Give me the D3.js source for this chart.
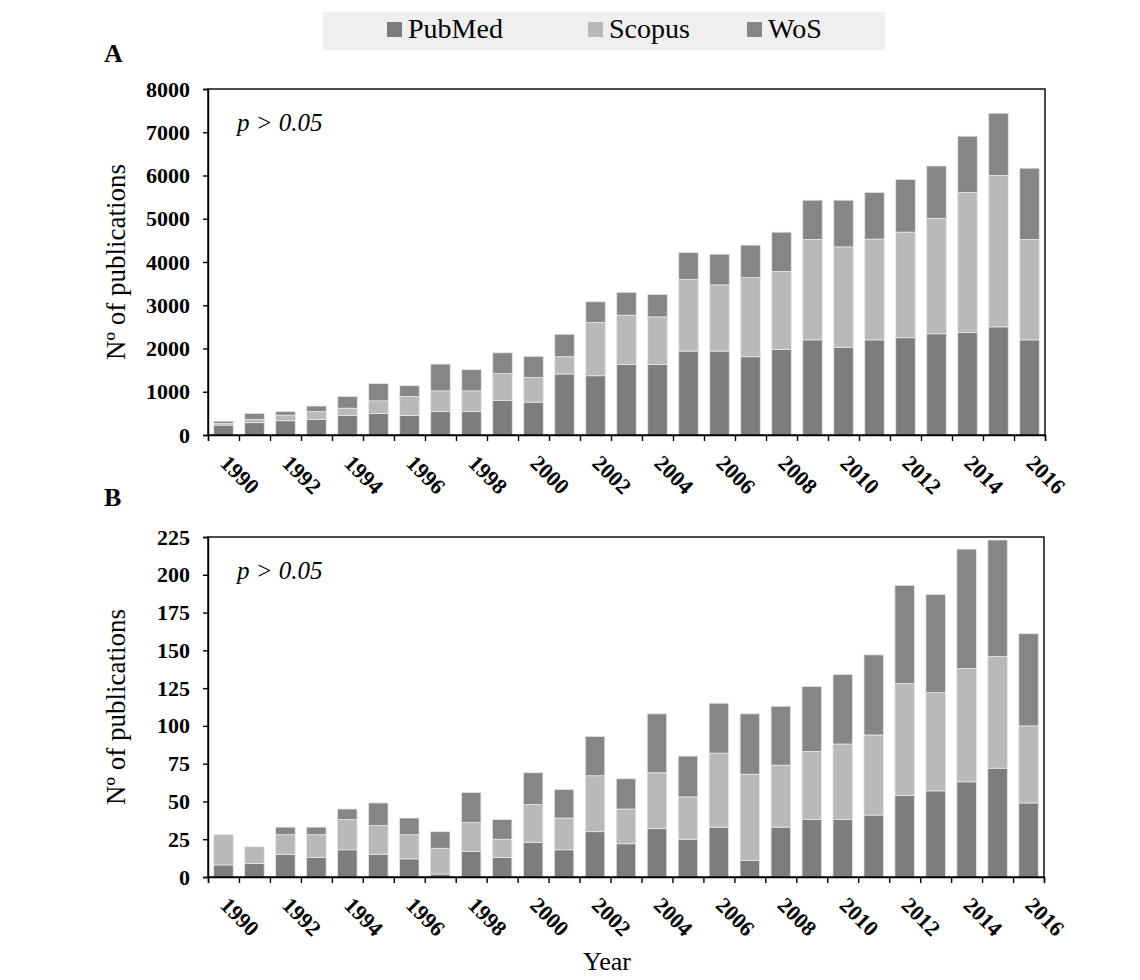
<!DOCTYPE html>
<html><head><meta charset="utf-8">
<script src="https://cdn.jsdelivr.net/npm/d3@7"></script>
<style>body{margin:0;background:#fff}svg{display:block}</style>
</head><body><svg id="c" width="1140" height="980"></svg>
<script>
const years = ["1990","1991","1992","1993","1994","1995","1996","1997","1998","1999","2000","2001","2002","2003","2004","2005","2006","2007","2008","2009","2010","2011","2012","2013","2014","2015","2016"];
const seriesNames = ["PubMed","Scopus","WoS"];
const pubmedA = [230,285,330,360,450,500,450,540,540,800,760,1410,1370,1630,1630,1940,1940,1810,1980,2200,2030,2200,2250,2340,2370,2500,2200];
const scopusA = [40,75,130,180,170,290,440,480,480,620,570,400,1230,1140,1100,1660,1530,1830,1800,2320,2320,2330,2440,2670,3240,3500,2320];
const wosA    = [50,140,80,130,270,400,250,620,490,480,490,520,480,530,520,620,710,750,910,910,1080,1080,1220,1210,1300,1440,1650];
const pubmedB = [8,9,15,13,18,15,12,2,17,13,23,18,30,22,32,25,33,11,33,38,38,41,54,57,63,72,49];
const scopusB = [20,11,13,15,20,19,16,17,19,12,25,21,37,23,37,28,49,57,41,45,50,53,74,65,75,74,51];
const wosB    = [0,0,5,5,7,15,11,11,20,13,21,19,26,20,39,27,33,40,39,43,46,53,65,65,79,77,61];
const yTicksA = [0,1000,2000,3000,4000,5000,6000,7000,8000];
const yTicksB = [0,25,50,75,100,125,150,175,200,225];
const xLabelYears = ["1990","1992","1994","1996","1998","2000","2002","2004","2006","2008","2010","2012","2014","2016"];
const colors = ["#7d7d7d","#b9b9b9","#868686"];

const svg = d3.select("#c");
const serif = "'Liberation Serif','Times New Roman',serif";

// legend
const lg = svg.append("g");
lg.append("rect").attr("x",323).attr("y",12).attr("width",562).attr("height",38).attr("fill","#efefef");
const legX = [387, 588, 747];
seriesNames.forEach((n,i)=>{
  lg.append("rect").attr("x",legX[i]).attr("y",22).attr("width",15).attr("height",15).attr("fill",colors[i]);
  lg.append("text").attr("x",legX[i]+21).attr("y",38).attr("font-family",serif).attr("font-size",28).attr("fill","#000").text(n);
});

function panel(cfg){
  const {x0,x1,y0,y1,vals,max,ticks,letter,letterY} = cfg;
  const g = svg.append("g");
  const x = d3.scaleBand().domain(years).range([x0,x1]).paddingInner(0.37).paddingOuter(0.185);
  const y = d3.scaleLinear().domain([0,max]).range([y1,y0]);
  const data = years.map((yr,i)=>({year:yr, PubMed:vals[0][i], Scopus:vals[1][i], WoS:vals[2][i]}));
  const stack = d3.stack().keys(seriesNames)(data);
  stack.forEach((s,si)=>{
    g.append("g").selectAll("rect").data(s).join("rect")
      .attr("x",d=>x(d.data.year)).attr("width",x.bandwidth())
      .attr("y",d=>y(d[1])).attr("height",d=>Math.max(0,y(d[0])-y(d[1])))
      .attr("fill",colors[si]).attr("stroke","#e6e6e6").attr("stroke-width",0.8);
  });
  // frame
  g.append("rect").attr("x",x0).attr("y",y0).attr("width",x1-x0).attr("height",y1-y0)
    .attr("fill","none").attr("stroke","#000").attr("stroke-width",1.4);
  // y axis
  const ya = g.append("g").attr("transform",`translate(${x0},0)`)
    .call(d3.axisLeft(y).tickValues(ticks).tickSize(5).tickPadding(13).tickFormat(d3.format("d")));
  ya.select(".domain").attr("stroke-width",1.4);
  ya.selectAll(".tick line").attr("stroke-width",1.4);
  ya.selectAll("text").attr("font-family",serif).attr("font-size",22).attr("font-weight","bold").attr("fill","#000");
  // x ticks at band boundaries
  const xb = d3.scaleLinear().domain([0,years.length]).range([x0,x1]);
  const xa = g.append("g").attr("transform",`translate(0,${y1})`)
    .call(d3.axisBottom(xb).tickValues(d3.range(0,years.length+1)).tickSize(6).tickFormat(""));
  xa.select(".domain").attr("stroke-width",1.4);
  xa.selectAll(".tick line").attr("stroke-width",1.4);
  // x labels
  g.append("g").selectAll("text").data(xLabelYears).join("text")
    .attr("transform",d=>`translate(${x(d)+x.bandwidth()/2+1},${y1+24}) rotate(45)`)
    .attr("dy","0.35em")
    .attr("font-family",serif).attr("font-size",22).attr("font-weight","bold").attr("fill","#000")
    .text(d=>d);
  // y title
  g.append("text").attr("transform",`translate(125,${(y0+y1)/2}) rotate(-90)`)
    .attr("text-anchor","middle").attr("font-family",serif).attr("font-size",27).attr("fill","#000")
    .text("Nº of publications");
  // p value
  g.append("text").attr("x",237).attr("y",y0+42).attr("font-family",serif).attr("font-size",25)
    .attr("font-style","italic").attr("fill","#000").text("p > 0.05");
  // panel letter
  svg.append("text").attr("x",104).attr("y",letterY).attr("font-family",serif).attr("font-size",26)
    .attr("font-weight","bold").attr("fill","#000").text(letter);
}

panel({x0:208,x1:1045,y0:89,y1:435,vals:[pubmedA,scopusA,wosA],max:8000,ticks:yTicksA,letter:"A",letterY:62});
panel({x0:208,x1:1044,y0:537,y1:877,vals:[pubmedB,scopusB,wosB],max:225,ticks:yTicksB,letter:"B",letterY:506});

svg.append("text").attr("x",607).attr("y",970).attr("text-anchor","middle").attr("font-family",serif)
  .attr("font-size",26).attr("fill","#000").text("Year");
</script></body></html>
